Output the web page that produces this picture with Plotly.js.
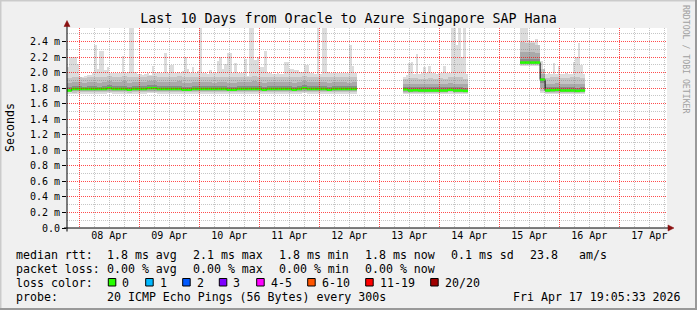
<!DOCTYPE html>
<html><head><meta charset="utf-8">
<script src="https://cdn.plot.ly/plotly-3.0.1.min.js"></script>
<style>html,body{margin:0;padding:0;background:#f0f0f0;overflow:hidden}</style>
</head><body><div id="chart" style="width:697px;height:310px"></div>
<script>
// ---------------- data ----------------
const titleText = 'Last 10 Days from Oracle to Azure Singapore SAP Hana';
const yTitle = 'Seconds';
const watermark = 'RRDTOOL / TOBI OETIKER';
const rangeStart = '2026-04-07 19:05:33';
const rangeEnd = '2026-04-17 19:05:33';

const dayDates = ['2026-04-08','2026-04-09','2026-04-10','2026-04-11','2026-04-12','2026-04-13','2026-04-14','2026-04-15','2026-04-16','2026-04-17'];
const dayLabels = ['08 Apr','09 Apr','10 Apr','11 Apr','12 Apr','13 Apr','14 Apr','15 Apr','16 Apr','17 Apr'];
const yTickVals = [0,0.2,0.4,0.6,0.8,1.0,1.2,1.4,1.6,1.8,2.0,2.2,2.4];
const yTickText = ['0.0','0.2 m','0.4 m','0.6 m','0.8 m','1.0 m','1.2 m','1.4 m','1.6 m','1.8 m','2.0 m','2.2 m','2.4 m'];

// segment 1 (hourly max, 2-hourly percentiles), values in ms
const seg1Start = '2026-04-07 19:00:00';
const seg1Max = [2.07,2.2,2.2,2.2,2.11,1.94,1.95,1.96,1.97,1.97,
 2.0,2.35,2.05,2.28,2.28,2.03,2.07,2.0,2.0,2.0,
 1.99,1.99,2.22,2.0,2.01,2.57,2.57,2.01,1.98,1.98,
 1.97,1.98,1.99,1.97,2.09,2.0,2.01,2.0,2.0,2.25,
 2.0,2.1,2.1,2.0,2.01,1.99,2.02,2.2,2.05,2.0,
 2.07,2.0,2.02,2.57,2.0,1.99,1.98,2.04,2.0,1.99,
 2.15,2.2,2.05,2.11,2.25,2.25,2.0,2.12,2.0,1.99,
 2.0,2.18,1.96,2.57,2.57,2.16,2.2,2.07,2.07,2.28,
 2.0,1.99,1.98,1.98,2.0,1.98,1.98,2.14,2.14,2.05,
 2.05,2.03,2.03,2.01,2.01,2.1,2.1,2.0,1.99,1.98,
 2.57,1.98,2.57,2.57,2.01,2.0,1.99,2.0,1.99,2.0,
 1.99,2.0,2.0,2.36,2.09,2.0];
const seg1Min = [1.73,1.72,1.73,1.73,1.73,1.73,1.73,1.73,1.74,1.73,
 1.73,1.73,1.72,1.73,1.73,1.73,1.74,1.74,1.73,1.73,
 1.73,1.73,1.73,1.72,1.72,1.73,1.73,1.73,1.73,1.73,
 1.73,1.73,1.72,1.72,1.73,1.73,1.73,1.73,1.73,1.72,
 1.73,1.73,1.73,1.73,1.73,1.72,1.73,1.74,1.73,1.73,
 1.73,1.73,1.72,1.73,1.73,1.73,1.73,1.73];
const seg1P10 = [1.745,1.74,1.745,1.75,1.75,1.75,1.75,1.75,1.755,1.75,
 1.75,1.75,1.74,1.75,1.75,1.75,1.755,1.755,1.75,1.75,
 1.75,1.75,1.75,1.745,1.745,1.75,1.75,1.75,1.75,1.75,
 1.75,1.75,1.745,1.745,1.75,1.75,1.75,1.75,1.75,1.745,
 1.75,1.75,1.75,1.75,1.75,1.745,1.75,1.755,1.75,1.75,
 1.75,1.75,1.745,1.75,1.75,1.75,1.75,1.75];
const seg1P25 = [1.76,1.76,1.765,1.765,1.765,1.765,1.765,1.765,1.77,1.765,
 1.765,1.765,1.76,1.765,1.765,1.765,1.77,1.77,1.765,1.765,
 1.765,1.765,1.765,1.76,1.76,1.765,1.765,1.765,1.765,1.765,
 1.765,1.765,1.76,1.76,1.765,1.765,1.765,1.765,1.765,1.76,
 1.765,1.765,1.765,1.765,1.765,1.76,1.765,1.77,1.765,1.765,
 1.765,1.765,1.76,1.765,1.765,1.765,1.765,1.765];
const seg1P40 = [1.765,1.775,1.78,1.78,1.78,1.78,1.78,1.78,1.785,1.78,
 1.78,1.78,1.775,1.78,1.78,1.78,1.785,1.785,1.78,1.78,
 1.78,1.78,1.78,1.775,1.775,1.78,1.78,1.78,1.78,1.78,
 1.78,1.78,1.775,1.775,1.78,1.78,1.78,1.78,1.78,1.775,
 1.78,1.78,1.78,1.78,1.78,1.775,1.78,1.785,1.78,1.78,
 1.78,1.78,1.775,1.78,1.78,1.78,1.78,1.78];
const seg1Med = [1.77,1.79,1.79,1.79,1.79,1.79,1.79,1.79,1.80,1.79,
 1.79,1.79,1.78,1.79,1.79,1.79,1.80,1.80,1.79,1.79,
 1.79,1.79,1.79,1.78,1.78,1.79,1.79,1.79,1.79,1.79,
 1.79,1.79,1.78,1.78,1.79,1.79,1.79,1.79,1.79,1.78,
 1.79,1.79,1.79,1.79,1.79,1.78,1.79,1.80,1.79,1.79,
 1.79,1.79,1.78,1.79,1.79,1.79,1.79,1.79];
const seg1P60 = [1.82,1.83,1.83,1.82,1.83,1.83,1.82,1.83,1.84,1.83,
 1.83,1.83,1.82,1.83,1.83,1.83,1.84,1.84,1.83,1.83,
 1.83,1.83,1.83,1.82,1.82,1.83,1.83,1.83,1.83,1.83,
 1.83,1.83,1.82,1.82,1.83,1.83,1.83,1.83,1.83,1.82,
 1.83,1.83,1.83,1.83,1.83,1.82,1.83,1.84,1.83,1.83,
 1.83,1.83,1.82,1.83,1.83,1.83,1.83,1.83];
const seg1P75 = [1.87,1.88,1.88,1.87,1.88,1.88,1.87,1.88,1.89,1.88,
 1.88,1.89,1.87,1.88,1.88,1.88,1.89,1.89,1.88,1.88,
 1.88,1.88,1.89,1.87,1.87,1.88,1.88,1.88,1.88,1.87,
 1.88,1.88,1.87,1.87,1.88,1.88,1.88,1.89,1.88,1.87,
 1.88,1.88,1.88,1.88,1.88,1.87,1.88,1.89,1.88,1.88,
 1.88,1.88,1.87,1.88,1.88,1.88,1.87,1.88];
const seg1P90 = [1.93,1.94,1.94,1.93,1.95,1.95,1.94,1.95,1.96,1.95,
 1.95,1.96,1.94,1.95,1.95,1.95,1.96,1.96,1.95,1.94,
 1.95,1.95,1.96,1.94,1.94,1.95,1.95,1.95,1.95,1.94,
 1.95,1.95,1.94,1.94,1.95,1.95,1.95,1.96,1.95,1.94,
 1.95,1.95,1.95,1.95,1.95,1.94,1.95,1.96,1.95,1.95,
 1.95,1.95,1.94,1.95,1.95,1.95,1.94,1.95];

// segment 2
const seg2Start = '2026-04-13 09:30:00';
const seg2Max = [1.95,1.97,2.13,2.14,1.98,2.24,1.98,2.0,2.07,1.99,2.08,1.99,2.0,1.98,2.0,1.99,2.09,2.0,2.0,2.57,2.57,2.35,2.57,2.2,2.57,1.98];
const seg2Min = [1.72,1.72,1.72,1.72,1.72,1.72,1.72,1.72,1.72,1.73,1.72,1.72,1.72];
const seg2P10 = [1.74,1.735,1.735,1.74,1.74,1.74,1.74,1.74,1.74,1.745,1.74,1.74,1.735];
const seg2P25 = [1.755,1.75,1.75,1.755,1.755,1.755,1.755,1.755,1.755,1.76,1.755,1.755,1.75];
const seg2P40 = [1.775,1.765,1.765,1.765,1.765,1.765,1.765,1.765,1.765,1.775,1.765,1.765,1.76];
const seg2Med = [1.785,1.77,1.775,1.77,1.77,1.77,1.77,1.77,1.77,1.78,1.77,1.77,1.765];
const seg2P60 = [1.82,1.81,1.81,1.81,1.81,1.81,1.81,1.81,1.81,1.82,1.81,1.81,1.80];
const seg2P75 = [1.86,1.86,1.86,1.86,1.86,1.86,1.86,1.86,1.86,1.87,1.86,1.86,1.85];
const seg2P90 = [1.92,1.93,1.93,1.92,1.92,1.93,1.92,1.93,1.92,1.94,1.94,1.94,1.92];

// segment 3
const seg3Start = '2026-04-15 08:20:00';
const seg3Max = [2.57,2.57,2.57,2.42,2.41,2.39,2.43,2.36,2.15,2.05,1.98,1.99,1.98,2.12,1.98,2.08,1.98,1.98,1.99,1.98,1.98,2.14,2.2,2.38,2.1,1.98];
const seg3Min = [2.09,2.09,2.09,2.09,1.74,1.72,1.72,1.72,1.72,1.72,1.72,1.72,1.72];
const seg3P10 = [2.10,2.10,2.10,2.10,1.76,1.735,1.735,1.74,1.74,1.74,1.74,1.735,1.735];
const seg3P25 = [2.11,2.11,2.11,2.11,1.80,1.75,1.75,1.755,1.755,1.755,1.755,1.75,1.75];
const seg3P40 = [2.12,2.12,2.12,2.12,1.87,1.76,1.765,1.77,1.765,1.765,1.765,1.76,1.765];
const seg3Med = [2.13,2.13,2.13,2.13,1.91,1.77,1.775,1.78,1.77,1.77,1.77,1.765,1.77];
const seg3P60 = [2.17,2.17,2.17,2.17,1.93,1.81,1.81,1.82,1.81,1.81,1.81,1.80,1.81];
const seg3P75 = [2.27,2.26,2.27,2.25,1.98,1.86,1.86,1.87,1.86,1.86,1.86,1.86,1.86];
const seg3P90 = [2.39,2.38,2.38,2.36,2.05,1.93,1.94,1.94,1.93,1.93,1.94,1.94,1.93];

// legend texts
const rttLabel = 'median rtt:';
const rttStats = ['1.8 ms avg','2.1 ms max','1.8 ms min','1.8 ms now','0.1 ms sd','23.8','am/s'];
const lossLabel = 'packet loss:';
const lossStats = ['0.00 % avg','0.00 % max','0.00 % min','0.00 % now'];
const lossColorLabel = 'loss color:';
const lossBins = ['0','1','2','3','4-5','6-10','11-19','20/20'];
const lossColors = ['#26ff00','#00b8ff','#0059ff','#7e00ff','#ff00ff','#ff5500','#ff0000','#a00000'];
const probeLabel = 'probe:';
const probeText = '20 ICMP Echo Pings (56 Bytes) every 300s';
const stampText = 'Fri Apr 17 19:05:33 2026';

// ---------------- drawing ----------------
const H = 3600000;
const FONT = 'DejaVu Sans Mono, monospace';
function ms(s){ return Date.parse(s.replace(' ','T') + 'Z'); }
const segs = [
 {t0: ms(seg1Start), max: seg1Max, mn: seg1Min, p10: seg1P10, p25: seg1P25, p40: seg1P40, med: seg1Med, p60: seg1P60, p75: seg1P75, p90: seg1P90},
 {t0: ms(seg2Start), max: seg2Max, mn: seg2Min, p10: seg2P10, p25: seg2P25, p40: seg2P40, med: seg2Med, p60: seg2P60, p75: seg2P75, p90: seg2P90},
 {t0: ms(seg3Start), max: seg3Max, mn: seg3Min, p10: seg3P10, p25: seg3P25, p40: seg3P40, med: seg3Med, p60: seg3P60, p75: seg3P75, p90: seg3P90}
];
const yTop = 2.575;
const traces = [];
function bar(xs, lo, hi, color, w){
  traces.push({type:'bar', x: xs, base: lo, y: hi.map((v,i)=>v-lo[i]), width: w,
    marker:{color: color, line:{width:0}}, hoverinfo:'skip', showlegend:false});
}
// lightest smoke: min..max (hourly)
segs.forEach(s=>{
  const xs = s.max.map((_,i)=> s.t0 + (i+0.5)*H);
  const lo = s.max.map((_,i)=> s.mn[Math.floor(i/2)]);
  bar(xs, lo, s.max, '#dcdcdc', H);
});
const bands = [['p10','p90','#c4c4c4'],['p25','p75','#a9a9a9'],['p40','p60','#8a8a8a']];
bands.forEach(b=>{
  segs.forEach(s=>{
    const xs = s.med.map((_,i)=> s.t0 + (2*i+1)*H);
    bar(xs, s[b[0]], s[b[1]], b[2], 2*H);
  });
});
// median: dark step line + green loss-coloured segments
segs.forEach(s=>{
  const xs = s.med.map((_,i)=> s.t0 + 2*i*H).concat([s.t0 + 2*s.med.length*H]);
  const ys = s.med.concat([s.med[s.med.length-1]]);
  traces.push({type:'scatter', mode:'lines', x: xs, y: ys, line:{color:'#000', width:1, shape:'hv'}, hoverinfo:'skip', showlegend:false});
});
segs.forEach(s=>{
  const xs = [], ys = [];
  s.med.forEach((v,i)=>{ xs.push(s.t0+2*i*H, s.t0+2*(i+1)*H, null); ys.push(v, v, null); });
  traces.push({type:'scatter', mode:'lines', x: xs, y: ys, line:{color: lossColors[0], width:2.5}, connectgaps:false, hoverinfo:'skip', showlegend:false});
});
// empty traces for the two grid subplots drawn above the data (grey minor, then red major)
traces.push({type:'scatter', x:[], y:[], xaxis:'x2', yaxis:'y2', hoverinfo:'skip', showlegend:false});
traces.push({type:'scatter', x:[], y:[], xaxis:'x3', yaxis:'y3', hoverinfo:'skip', showlegend:false});

// pixel helpers
const L = 67, T = 28, W = 600, HT = 200;
const px = x => (x - L)/W;
const py = y => (T + HT - y)/HT;

const ann = [];
function txt(x, y, t, opt){
  ann.push(Object.assign({xref:'paper', yref:'paper', x: px(x), y: py(y), text: t, showarrow:false,
    xanchor:'left', yanchor:'middle', borderpad:0, borderwidth:0,
    font:{family: FONT, size: 11.6, color:'#000'}}, opt||{}));
}
const row1 = 254.5, row2 = 268.5, row3 = 282.5, row4 = 296.5;
txt(16, row1, rttLabel);
const rttX = [107.3,193.3,279.3,365,451,530,579.3];
rttStats.forEach((t,i)=> txt(rttX[i], row1, t));
txt(16, row2, lossLabel);
const lossX = [107.3,193.3,279.3,365];
lossStats.forEach((t,i)=> txt(lossX[i], row2, t));
txt(16, row3, lossColorLabel);
const boxX = [108.3,145.7,182.7,219.3,256.7,307.7,365.7,430.7];
const shapes = [];
// white canvas under the data
shapes.push({type:'rect', xref:'paper', yref:'paper', layer:'below', x0:0, x1:1, y0:0, y1:1, fillcolor:'#ffffff', line:{width:0}});
lossBins.forEach((t,i)=>{
  shapes.push({type:'rect', xref:'paper', yref:'paper', x0: px(boxX[i]), x1: px(boxX[i]+7.5), y0: py(286), y1: py(278.5),
    fillcolor: lossColors[i], line:{color:'#000', width:1}});
  txt(boxX[i]+14, row3, t);
});
txt(16, row4, probeLabel);
txt(107.3, row4, probeText);
txt(513.3, row4, stampText);
// axis title and watermark
ann.push({xref:'paper', yref:'paper', x: px(10), y: 0.5, text: yTitle, textangle:-90, showarrow:false,
  xanchor:'center', yanchor:'middle', font:{family: FONT, size: 11.6, color:'#000'}});
ann.push({xref:'paper', yref:'paper', x: px(686), y: py(59), text: watermark, textangle:90, showarrow:false,
  xanchor:'center', yanchor:'middle', font:{family: FONT, size: 8.2, color:'#a0a0a0'}});

// frame, axis lines, arrows
const AR = '#8b1010';
shapes.push(
  {type:'line', xref:'paper', yref:'paper', x0: px(0), x1: px(697), y0: py(0.5), y1: py(0.5), line:{color:'#cbcbcb', width:2}},
  {type:'line', xref:'paper', yref:'paper', x0: px(0.5), x1: px(0.5), y0: py(0), y1: py(310), line:{color:'#cbcbcb', width:2}},
  {type:'line', xref:'paper', yref:'paper', x0: px(0), x1: px(697), y0: py(309), y1: py(309), line:{color:'#999999', width:2}},
  {type:'line', xref:'paper', yref:'paper', x0: px(696), x1: px(696), y0: py(0), y1: py(310), line:{color:'#999999', width:2}},
  {type:'line', xref:'paper', yref:'paper', layer:'above', x0: px(67), x1: px(67), y0: py(231.5), y1: py(25), line:{color:'#000', width:1}},
  {type:'line', xref:'paper', yref:'paper', layer:'above', x0: px(64), x1: px(669), y0: py(228), y1: py(228), line:{color:'#000', width:1}},
  {type:'path', xref:'paper', yref:'paper', layer:'above', path: 'M'+px(64)+','+py(26.5)+' L'+px(70)+','+py(26.5)+' L'+px(67)+','+py(20.5)+' Z', fillcolor: AR, line:{color: AR, width:0.5}},
  {type:'path', xref:'paper', yref:'paper', layer:'above', path: 'M'+px(668)+','+py(225)+' L'+px(668)+','+py(231)+' L'+px(674)+','+py(228)+' Z', fillcolor: AR, line:{color: AR, width:0.5}}
);

const xr = [ms(rangeStart), ms(rangeEnd)];
const midnights = dayDates.map(d => ms(d + ' 00:00:00'));
const noons = dayDates.map(d => ms(d + ' 12:00:00'));
// 6-hour minor grid positions (skipping midnights) and 0.1 ms minor y grid positions
const sixHours = [];
midnights.forEach(m => { [-18,-12,-6].forEach(k => sixHours.push(m + k*H)); });
[6,12,18].forEach(k => sixHours.push(midnights[midnights.length-1] + k*H));
const yMinor = yTickVals.map(v => v + 0.1);
const gridRed = 'rgba(255,0,0,0.7)';
const gridGrey = 'rgba(120,120,120,0.42)';

function gridAxis(vals, color, anchor, isDate){
  const a = {range: isDate ? xr : [0, yTop], anchor: anchor, domain: [0,1], tickmode: 'array', tickvals: vals,
    showticklabels: false, ticks: '', showgrid: true, gridcolor: color, gridwidth: 1, griddash: '1px,1px',
    zeroline: false, showline: false, fixedrange: true};
  if (isDate) a.type = 'date';
  return a;
}

const layout = {
  width: 697, height: 310,
  margin: {l: L, r: 697 - L - W, t: T, b: 310 - T - HT, pad: 0},
  paper_bgcolor: '#f0f0f0', plot_bgcolor: 'rgba(0,0,0,0)',
  barmode: 'overlay', bargap: 0,
  showlegend: false,
  title: {text: titleText, font: {family: FONT, size: 13.3, color: '#000'}, x: 0.5, xref: 'container', xanchor: 'center', y: 1 - 18/310, yref: 'container', yanchor: 'middle'},
  xaxis: {type: 'date', range: xr, tickmode: 'array', tickvals: noons, ticktext: dayLabels, ticks: '', showgrid: false, zeroline: false, showline: false,
    tickfont: {family: FONT, size: 10, color: '#000'}, fixedrange: true},
  yaxis: {range: [0, yTop], tickmode: 'array', tickvals: yTickVals, ticktext: yTickText, ticks: 'outside', ticklen: 4, tickcolor: '#000', tickwidth: 1,
    showgrid: false, zeroline: false, showline: false, tickfont: {family: FONT, size: 10, color: '#000'}, fixedrange: true},
  xaxis2: gridAxis(sixHours, gridGrey, 'y2', true),
  yaxis2: gridAxis(yMinor, gridGrey, 'x2', false),
  xaxis3: gridAxis(midnights, gridRed, 'y3', true),
  yaxis3: gridAxis(yTickVals.slice(1), gridRed, 'x3', false),
  annotations: ann,
  shapes: shapes
};
Plotly.newPlot('chart', traces, layout, {displayModeBar: false, responsive: false});
</script>
</body></html>
